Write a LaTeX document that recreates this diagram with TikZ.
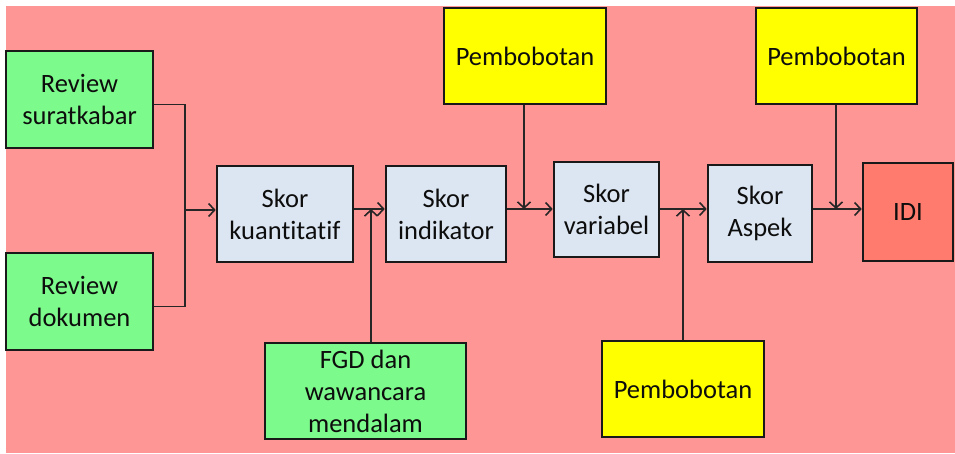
\documentclass[tikz,border=0pt]{standalone}
\usepackage{fontspec}
\setmainfont{Carlito}[Ligatures={NoCommon}]
\usepackage{tikz}
\usetikzlibrary{arrows.meta}
\usetikzlibrary{calc}

\definecolor{bgpink}{HTML}{FF9696}
\definecolor{srcgreen}{HTML}{7DFA8C}
\definecolor{skorblue}{HTML}{DCE6F2}
\definecolor{weightyellow}{HTML}{FFFF00}
\definecolor{idisalmon}{HTML}{FF7B6E}

\begin{document}
\begin{tikzpicture}[x=1pt, y=-1pt, >={Straight Barb[length=6pt,width=13pt,line width=1.6pt]},
        box_style/.style={draw=black!90, line width=2.6pt, inner sep=2pt, align=center,
            text=black!95, font=\fontsize{26.5}{32}\selectfont},
        source_style/.style={box_style, fill=srcgreen},
        skor_style/.style={box_style, fill=skorblue},
        weight_style/.style={box_style, fill=weightyellow},
        idi_style/.style={box_style, fill=idisalmon},
        edge_style/.style={draw=black!85, line width=1.8pt, ->},
        join_style/.style={draw=black!85, line width=1.8pt}]

        \useasboundingbox (0,0) rectangle (955,454);
        \clip (0,0) rectangle (955,454);
        \fill [bgpink] (6,6) rectangle (960,453);

        \node [source_style, minimum width=147pt, minimum height=97pt](rev1) at (79.5,99.5) {Review\\suratkabar};

        \node [source_style, minimum width=147pt, minimum height=97pt](rev2) at (79.5,301.5) {Review\\dokumen};

        \node [skor_style, minimum width=136pt, minimum height=96pt](kuant) at (285,214) {Skor\\kuantitatif};

        \node [skor_style, minimum width=120pt, minimum height=96pt](indik) at (446,214) {Skor\\indikator};

        \node [skor_style, minimum width=105pt, minimum height=95pt](var) at (606.5,209.5) {Skor\\variabel};

        \node [skor_style, minimum width=104pt, minimum height=97pt](aspek) at (760,213.5) {Skor\\Aspek};

        \node [idi_style, minimum width=90pt, minimum height=98pt](idi) at (908,212) {IDI};

        \node [source_style, minimum width=201pt, minimum height=96pt](fgd) at (365.5,391) {FGD dan\\wawancara\\mendalam};

        \node [weight_style, minimum width=162pt, minimum height=96pt](pem1) at (525,56) {Pembobotan};

        \node [weight_style, minimum width=162pt, minimum height=96pt](pem2) at (683,389) {Pembobotan};

        \node [weight_style, minimum width=161pt, minimum height=96pt](pem3) at (836.5,56) {Pembobotan};

        % junction points on the main flow line
        \coordinate (j0) at (185,210);
        \coordinate (j1) at (371,209);
        \coordinate (j2) at (524,209);
        \coordinate (j3) at (683,209);
        \coordinate (j4) at (836,209);

        \draw [join_style] ($(rev1.east)+(0,5)$) -| (j0);

        \draw [join_style] ($(rev2.east)+(0,5)$) -| (j0);

        \draw [edge_style] (j0) -- (kuant.west |- j0);

        \draw [edge_style] (kuant.east |- j1) -- (indik.west |- j1);

        \draw [edge_style] (fgd.north -| j1) -- (j1);

        \draw [edge_style] (indik.east |- j2) -- (var.west |- j2);

        \draw [edge_style] (pem1.south -| j2) -- (j2);

        \draw [edge_style] (var.east |- j3) -- (aspek.west |- j3);

        \draw [edge_style] (pem2.north -| j3) -- (j3);

        \draw [edge_style] (aspek.east |- j4) -- (idi.west |- j4);

        \draw [edge_style] (pem3.south -| j4) -- (j4);

        \end{tikzpicture}
\end{document}
